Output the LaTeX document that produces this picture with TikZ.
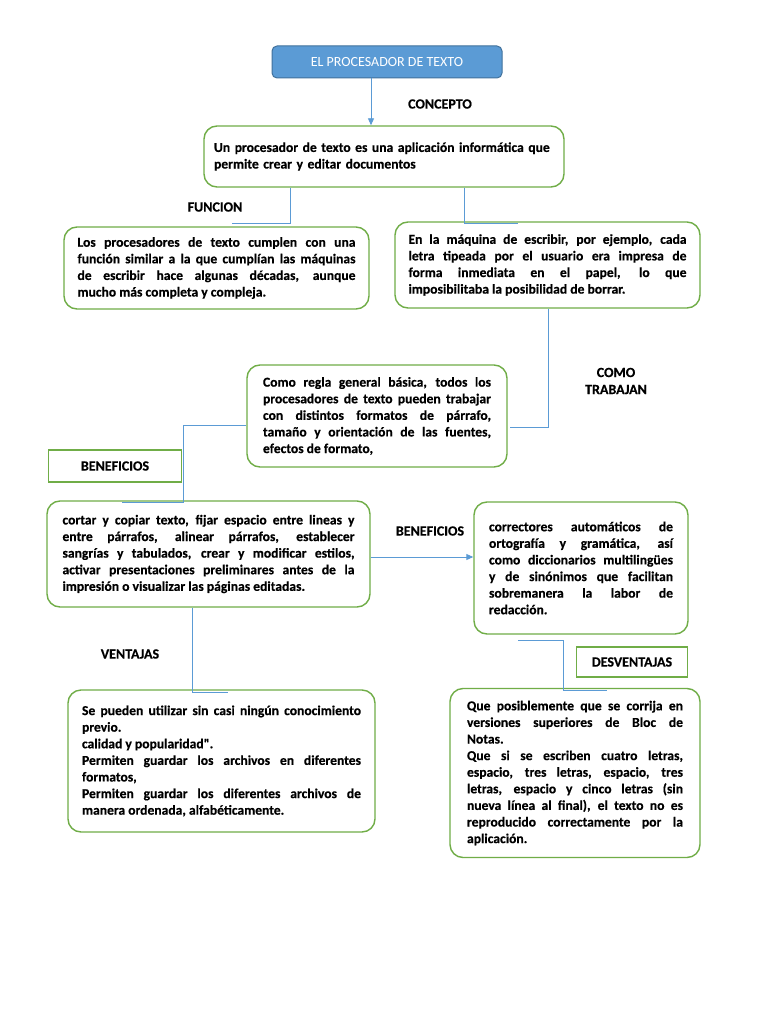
\documentclass[tikz,border=0pt]{standalone}
\usepackage{fontspec}
\setmainfont{Carlito}[BoldFeatures={FakeBold=0.4}]
\newfontfamily\plainq{Carlito}[Ligatures=TeXOff,BoldFeatures={FakeBold=0.4}]
\usetikzlibrary{arrows.meta,calc}
\definecolor{gborder}{HTML}{70AD47}
\definecolor{bline}{HTML}{5B9BD5}
\definecolor{tfill}{HTML}{5B9BD5}
\definecolor{tborder}{HTML}{41719C}
\setlength{\parindent}{0pt}
\tolerance=10000
\hbadness=10000
\begin{document}
\begin{tikzpicture}[x=1pt,y=-1pt,
  gbox/.style={draw=gborder,line width=1.4pt,rounded corners=13pt,inner sep=0pt,align=justify,font=\bfseries\fontsize{13.6}{16.6}\selectfont},
  sbox/.style={draw=gborder,line width=1.4pt,inner sep=0pt,font=\bfseries\fontsize{14}{16}\selectfont},
  lbl/.style={font=\bfseries\fontsize{14}{17}\selectfont,align=center},
  conn/.style={draw=bline,line width=0.9pt},
  arr/.style={conn,-{Triangle[length=7pt,width=6pt]}}]
\fill[white] (0,0) rectangle (768,1024);
\useasboundingbox (0,0) rectangle (768,1024);

\node[draw=tborder,fill=tfill,line width=1pt,rounded corners=5pt,minimum width=230pt,minimum height=32pt,text=white,font=\fontsize{14}{16}\selectfont] (top) at (387,62) {EL PROCESADOR DE TEXTO};

\node[gbox,align=left,minimum width=360pt,minimum height=61pt,text width=340pt] (concept) at (384,156.5)
  {Un procesador de texto es una aplicación informática que\\permite crear y editar documentos};

\node[gbox,minimum width=305pt,minimum height=82pt,text width=278pt] (func) at (216.5,268)
  {Los procesadores de texto cumplen con una\linebreak función similar a la que cumplían las máquinas\linebreak de escribir hace algunas décadas, aunque\linebreak mucho más completa y compleja.};

\node[gbox,minimum width=305pt,minimum height=86pt,text width=278pt] (maq) at (547.5,265)
  {En la máquina de escribir, por ejemplo, cada\linebreak letra tipeada por el usuario era impresa de\linebreak forma inmediata en el papel, lo que\linebreak imposibilitaba la posibilidad de borrar.};

\node[gbox,minimum width=260pt,minimum height=102pt,text width=228pt] (regla) at (377,416)
  {Como regla general básica, todos los\linebreak procesadores de texto pueden trabajar\linebreak con distintos formatos de párrafo,\linebreak tamaño y orientación de las fuentes,\linebreak efectos de formato,};

\node[sbox,minimum width=133pt,minimum height=32pt] (benef) at (115,466) {BENEFICIOS};

\node[gbox,minimum width=323pt,minimum height=106pt,text width=292pt] (cortar) at (208.5,554)
  {cortar y copiar texto, fijar espacio entre lineas y\linebreak entre párrafos, alinear párrafos, establecer\linebreak sangrías y tabulados, crear y modificar estilos,\linebreak activar presentaciones preliminares antes de la\linebreak impresión o visualizar las páginas editadas.};

\node[gbox,minimum width=214pt,minimum height=132pt,text width=184pt] (correct) at (581,568)
  {correctores automáticos de\linebreak ortografía y gramática, así\linebreak como diccionarios multilingües\linebreak y de sinónimos que facilitan\linebreak sobremanera la labor de\linebreak redacción.\par\vspace{10pt}};

\node[sbox,minimum width=111pt,minimum height=30pt] (desv) at (632,662) {DESVENTAJAS};

\node[gbox,minimum width=307pt,minimum height=142pt,text width=279pt] (ventajas) at (221.5,761)
  {Se pueden utilizar sin casi ningún conocimiento\linebreak previo.\par calidad y popularidad{\plainq\bfseries"}.\par Permiten guardar los archivos en diferentes\linebreak formatos,\par Permiten guardar los diferentes archivos de\linebreak manera ordenada, alfabéticamente.};

\node[gbox,minimum width=250pt,minimum height=169pt,text width=216pt] (posib) at (575,773)
  {Que posiblemente que se corrija en\linebreak versiones superiores de Bloc de\linebreak Notas.\par Que si se escriben cuatro letras,\linebreak espacio, tres letras, espacio, tres\linebreak letras, espacio y cinco letras (sin\linebreak nueva línea al final), el texto no es\linebreak reproducido correctamente por la\linebreak aplicación.};

% labels
\node[lbl] (lconcepto) at (440,104) {CONCEPTO};
\node[lbl] (lfuncion) at (215,207) {FUNCION};
\node[lbl] (lcomo) at (616,381) {COMO\\TRABAJAN};
\node[lbl] (lbenef) at (430,531) {BENEFICIOS};
\node[lbl] (lvent) at (130,654) {VENTAJAS};

% connector coordinates
\coordinate (x1) at (371,0);
\coordinate (x2) at (290,223);
\coordinate (e2) at (232,223);
\coordinate (x3) at (464,223);
\coordinate (e3) at (518,223);
\coordinate (x4) at (548,427);
\coordinate (e4) at (510,427);
\coordinate (y5) at (0,425);
\coordinate (k5) at (183,502);
\coordinate (e5) at (122,502);
\coordinate (y6) at (0,557);
\coordinate (s7) at (518,640);
\coordinate (k7) at (563,690);
\coordinate (e7) at (607,690);
\coordinate (x8) at (192,692);
\coordinate (e8) at (228,692);

\draw[arr] (top.south -| x1) -- (concept.north -| x1);
\draw[conn] (concept.south -| x2) -- (x2) -- (e2);
\draw[conn] (concept.south -| x3) -- (x3) -- (e3);
\draw[conn] (maq.south -| x4) -- (x4) -- (e4);
\draw[conn] (regla.west |- y5) -| (k5) -- (e5);
\draw[arr] (cortar.east |- y6) -- (correct.west |- y6);
\draw[conn] (s7) -| (k7) -- (e7);
\draw[conn] (cortar.south -| x8) -- (x8) -- (e8);
\end{tikzpicture}
\end{document}
